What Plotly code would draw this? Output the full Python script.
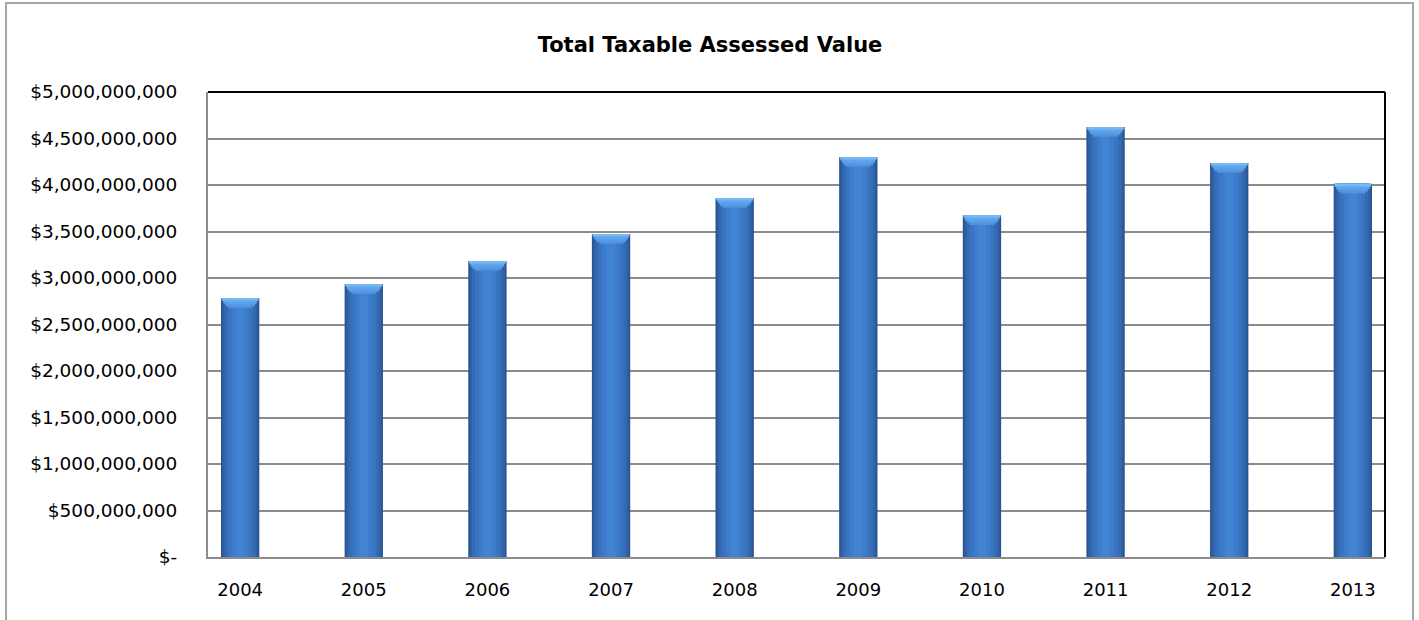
import plotly.graph_objects as go

# Total taxable assessed value by year
years = ["2004", "2005", "2006", "2007", "2008", "2009", "2010", "2011", "2012", "2013"]
assessed_value = [2.785e9, 2.935e9, 3.183e9, 3.473e9, 3.860e9,
                  4.301e9, 3.674e9, 4.624e9, 4.237e9, 4.014e9]

tick_values = [0, 5e8, 1e9, 1.5e9, 2e9, 2.5e9, 3e9, 3.5e9, 4e9, 4.5e9, 5e9]
tick_labels = ["$-", "$500,000,000", "$1,000,000,000", "$1,500,000,000",
               "$2,000,000,000", "$2,500,000,000", "$3,000,000,000",
               "$3,500,000,000", "$4,000,000,000", "$4,500,000,000",
               "$5,000,000,000"]

FONT = "DejaVu Sans"

fig = go.Figure()

# Layered bars of shrinking width give a shaded, cylinder-like look
layers = [
    (0.31, "#2a5490"),
    (0.285, "#2f60a2"),
    (0.25, "#346bb3"),
    (0.20, "#3974c1"),
    (0.14, "#3d7cca"),
    (0.07, "#4283d2"),
]
for w, c in layers:
    fig.add_trace(go.Bar(
        x=years, y=assessed_value, width=w,
        marker=dict(color=c, line=dict(width=0)),
        hoverinfo="skip", showlegend=False,
    ))

# Light bevel at the top of each bar: wide and shallow on top, narrower below
bevel = [
    (0.20, 1.05e8, "#4f92df"),
    (0.24, 0.85e8, "#569ae4"),
    (0.27, 0.60e8, "#5ea3ea"),
    (0.29, 0.35e8, "#69aef0"),
    (0.30, 0.15e8, "#78b9f4"),
]
for w, h, c in bevel:
    fig.add_trace(go.Bar(
        x=years, y=[h] * len(years),
        base=[v - h for v in assessed_value],
        width=w, marker=dict(color=c, line=dict(width=0)),
        hoverinfo="skip", showlegend=False,
    ))

fig.update_layout(
    width=1419, height=620,
    margin=dict(l=208, r=34, t=92, b=63),
    paper_bgcolor="white", plot_bgcolor="white",
    barmode="overlay",
    title=dict(
        text="<b>Total Taxable Assessed Value</b>",
        x=710 / 1419, xref="container", xanchor="center",
        y=1 - 45 / 620, yref="container", yanchor="middle",
        font=dict(family=FONT, size=21, color="#000000"),
    ),
    font=dict(family=FONT, color="#000000"),
    xaxis=dict(
        type="category", showgrid=False,
        showline=True, linecolor="#8c8c8c", linewidth=2,
        ticks="outside", ticklen=15, tickcolor="rgba(0,0,0,0)",
        tickfont=dict(family=FONT, size=18, color="#000000"),
        range=[-0.26, 9.26], fixedrange=True,
    ),
    yaxis=dict(
        range=[0, 5e9],
        tickvals=tick_values, ticktext=tick_labels,
        showgrid=True, gridcolor="#8c8c8c", gridwidth=2,
        zeroline=False,
        showline=True, linecolor="#8c8c8c", linewidth=2,
        ticks="outside", ticklen=25, tickcolor="rgba(0,0,0,0)",
        tickfont=dict(family=FONT, size=18.5, color="#000000"),
        fixedrange=True,
    ),
    shapes=[
        # top and right edges of the plot area
        dict(type="line", xref="paper", yref="paper", x0=0, x1=1, y0=1, y1=1,
             line=dict(color="#000000", width=2)),
        dict(type="line", xref="paper", yref="paper", x0=1, x1=1, y0=0, y1=1,
             line=dict(color="#000000", width=2)),
        # outer chart frame
        dict(type="rect", xref="paper", yref="paper",
             x0=-0.1716, x1=1.0238, y0=-0.2, y1=1.1914,
             line=dict(color="#a6a6a6", width=2), fillcolor="rgba(0,0,0,0)",
             layer="below"),
    ],
)

fig.write_html("out.html")
